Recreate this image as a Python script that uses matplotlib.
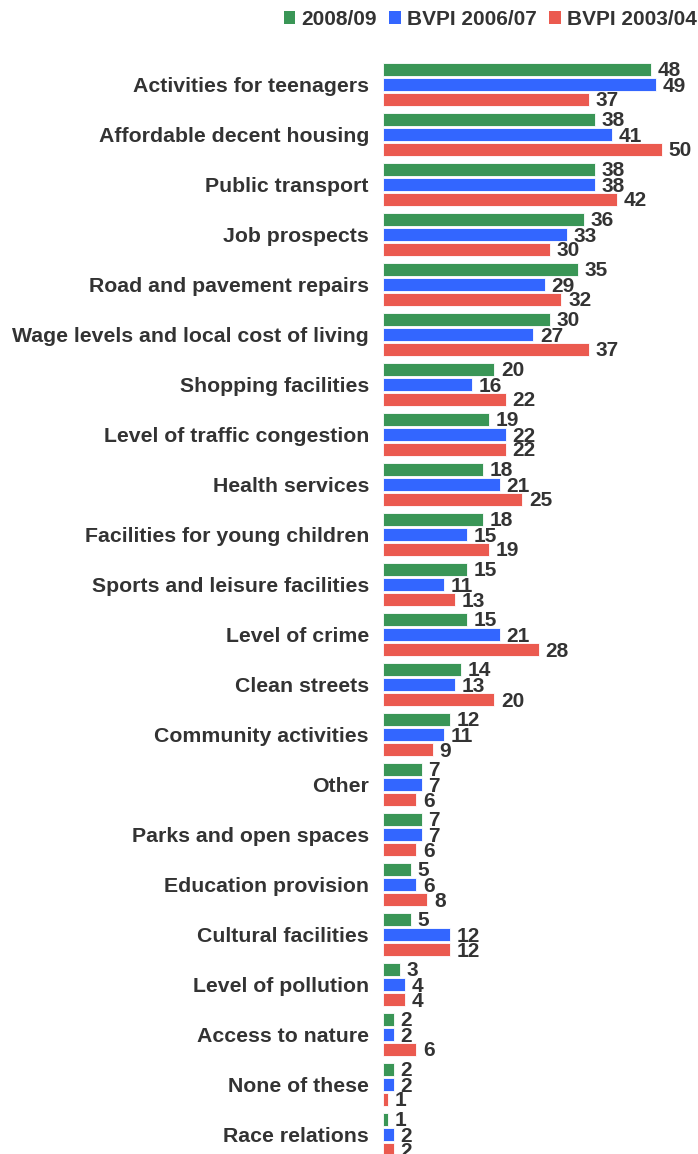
import matplotlib
matplotlib.use("Agg")
import matplotlib.pyplot as plt
from matplotlib.patches import Patch
import numpy as np

categories = [
    "Activities for teenagers", "Affordable decent housing", "Public transport",
    "Job prospects", "Road and pavement repairs", "Wage levels and local cost of living",
    "Shopping facilities", "Level of traffic congestion", "Health services",
    "Facilities for young children", "Sports and leisure facilities", "Level of crime",
    "Clean streets", "Community activities", "Other", "Parks and open spaces",
    "Education provision", "Cultural facilities", "Level of pollution",
    "Access to nature", "None of these", "Race relations",
]
series_names = ["2008/09", "BVPI 2006/07", "BVPI 2003/04"]
vals_2008 = [48, 38, 38, 36, 35, 30, 20, 19, 18, 18, 15, 15, 14, 12, 7, 7, 5, 5, 3, 2, 2, 1]
vals_2006 = [49, 41, 38, 33, 29, 27, 16, 22, 21, 15, 11, 21, 13, 11, 7, 7, 6, 12, 4, 2, 2, 2]
vals_2003 = [37, 50, 42, 30, 32, 37, 22, 22, 25, 19, 13, 28, 20, 9, 6, 6, 8, 12, 4, 6, 1, 2]

colors = ["#3a9656", "#3366ff", "#eb5a4f"]
text_color = "#333333"
font = "Liberation Sans"
fs = 15

W, H = 698, 1154
fig = plt.figure(figsize=(W / 100, H / 100), dpi=100)
x0, top_px = 382.8, 59
ax = fig.add_axes([x0 / W, 0, (W - x0) / W, (H - top_px) / H])

y = np.arange(len(categories))
offsets = [-0.3, 0.0, 0.3]
bar_h = 0.26
for vals, off, col in zip([vals_2008, vals_2006, vals_2003], offsets, colors):
    ax.barh(y + off, vals, height=bar_h, color=col, edgecolor="white", linewidth=0.6)
    for yi, v in zip(y, vals):
        ax.text(v + 1.2, yi + off + 0.04, str(v), va="center", ha="left",
                fontsize=fs, fontweight="bold", color=text_color, family=font)

ax.set_xlim(0, (W - x0) / 5.58)
ax.set_ylim((H - 84) / 50, -0.5)
ax.set_yticks(y)
ax.set_yticklabels(categories, fontsize=15.3, fontweight="bold", color=text_color, family=font)
ax.tick_params(axis="y", length=0, pad=10)
ax.set_xticks([])
for s in ax.spines.values():
    s.set_visible(False)

handles = [Patch(facecolor=c, edgecolor="none") for c in colors]
leg = fig.legend(handles, series_names, ncol=3, loc="upper right",
                 bbox_to_anchor=(697 / W, 1 - 10 / H), frameon=False,
                 borderpad=0, borderaxespad=0,
                 handlelength=0.55, handleheight=0.55, handletextpad=0.3,
                 columnspacing=0.6, prop={"family": font, "weight": "bold", "size": fs})
for t in leg.get_texts():
    t.set_color(text_color)

fig.savefig("out.png", dpi=100)
